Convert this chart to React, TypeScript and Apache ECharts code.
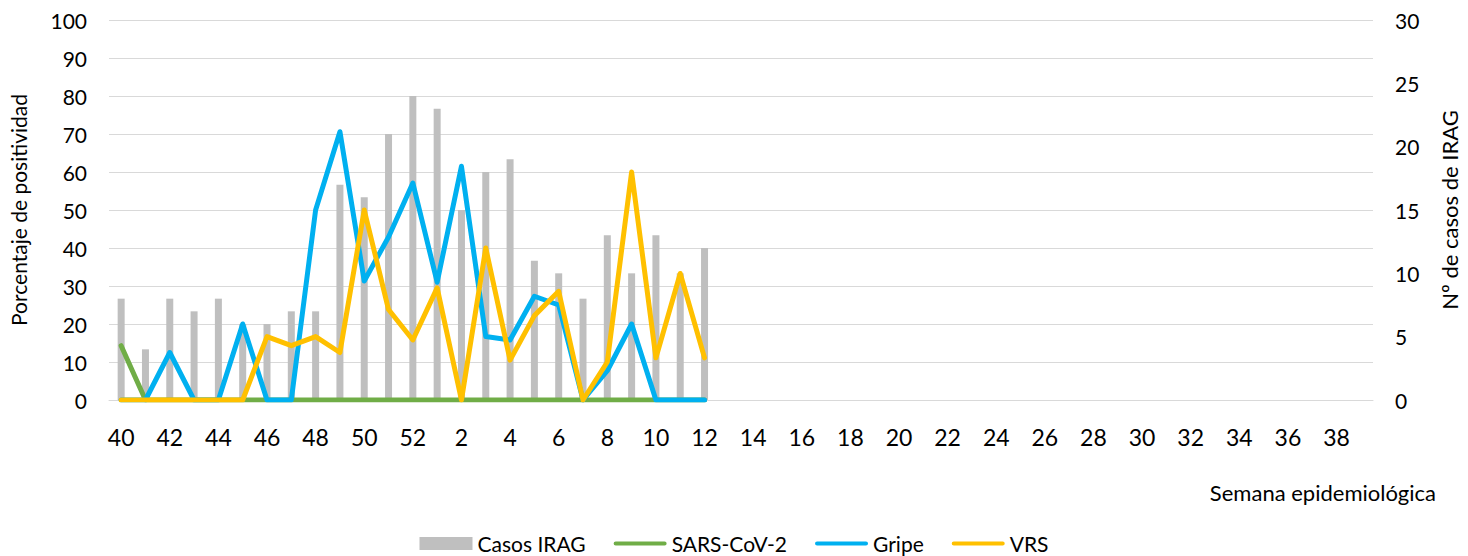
import React, { useEffect, useRef } from "react";
import * as echarts from "echarts";

const weeks: string[] = [
  "40","41","42","43","44","45","46","47","48","49","50","51","52",
  "1","2","3","4","5","6","7","8","9","10","11","12","13","14","15","16","17","18","19","20",
  "21","22","23","24","25","26","27","28","29","30","31","32","33","34","35","36","37","38","39",
];

const casosIRAG: number[] = [8, 4, 8, 7, 8, 6, 6, 7, 7, 17, 16, 21, 24, 23, 15, 18, 19, 11, 10, 8, 13, 10, 13, 10, 12];
const sarsCov2: number[] = [14.3, 0, 0, 0, 0, 0, 0, 0, 0, 0, 0, 0, 0, 0, 0, 0, 0, 0, 0, 0, 0, 0, 0, 0, 0];
const gripe: number[] = [0, 0, 12.5, 0, 0, 20, 0, 0, 50, 70.6, 31.3, 42.9, 57.1, 31, 61.5, 16.7, 15.8, 27.3, 25, 0, 7.7, 20, 0, 0, 0];
const vrs: number[] = [0, 0, 0, 0, 0, 0, 16.7, 14.3, 16.7, 12.5, 50, 23.8, 15.8, 29.5, 0, 40, 10.5, 22.2, 28.6, 0, 10, 60, 11.1, 33.3, 11.1];

const leftTicks = { min: 0, max: 100, interval: 10 };
const rightTicks = { min: 0, max: 30, interval: 5 };

const FONT = "Lato";
const GRID = "#d9d9d9";
const LINE_ICON = "path://M2,0 H50 A2,2 0 0 1 50,4 H2 A2,2 0 0 1 2,0 Z";

export default function App() {
  const ref = useRef<HTMLDivElement>(null);
  useEffect(() => {
    document.body.style.margin = "0";
    const chart = echarts.init(ref.current!, null, { renderer: "svg" });
    chart.setOption({
      animation: false,
      textStyle: { fontFamily: FONT, color: "#000" },
      grid: { left: 98, right: 94, top: 20, bottom: 156 },
      legend: {
        top: 531,
        left: "center",
        padding: 0,
        itemWidth: 53,
        itemHeight: 13,
        itemGap: 28,
        textStyle: { fontFamily: FONT, fontSize: 21, color: "#000", lineHeight: 25 },
        data: [
          { name: "Casos IRAG", icon: "rect", itemStyle: { borderWidth: 0 } },
          { name: "SARS-CoV-2", icon: LINE_ICON, itemStyle: { borderWidth: 0 } },
          { name: "Gripe", icon: LINE_ICON, itemStyle: { borderWidth: 0 } },
          { name: "VRS", icon: LINE_ICON, itemStyle: { borderWidth: 0 } },
        ],
      },
      xAxis: {
        type: "category",
        data: weeks,
        boundaryGap: true,
        axisTick: { show: false },
        axisLine: { lineStyle: { color: GRID, width: 1 } },
        axisLabel: { interval: 1, fontSize: 23, color: "#000", fontFamily: FONT, margin: 25 },
      },
      yAxis: [
        {
          type: "value",
          ...leftTicks,
          name: "Porcentaje de positividad",
          nameLocation: "middle",
          nameGap: 80,
          nameTextStyle: { fontSize: 21, fontFamily: FONT, color: "#000" },
          axisLine: { show: false },
          axisTick: { show: false },
          axisLabel: { fontSize: 21, color: "#000", fontFamily: FONT, margin: 22 },
          splitLine: { lineStyle: { color: GRID, width: 1 } },
        },
        {
          type: "value",
          ...rightTicks,
          name: "Nº de casos de IRAG",
          nameLocation: "middle",
          nameGap: 65,
          nameRotate: 90,
          nameTextStyle: { fontSize: 22, fontFamily: FONT, color: "#000" },
          axisLine: { show: false },
          axisTick: { show: false },
          axisLabel: { fontSize: 21, color: "#000", fontFamily: FONT, margin: 22 },
          splitLine: { show: false },
        },
      ],
      graphic: [
        {
          type: "text",
          right: 32,
          top: 481,
          style: { text: "Semana epidemiológica", fontSize: 22, fontFamily: FONT, fill: "#000" },
        },
      ],
      series: [
        {
          name: "Casos IRAG",
          type: "bar",
          yAxisIndex: 1,
          data: casosIRAG,
          barWidth: 7,
          itemStyle: { color: "#bfbfbf" },
        },
        {
          name: "SARS-CoV-2",
          type: "line",
          data: sarsCov2,
          symbol: "none",
          lineStyle: { color: "#70ad47", width: 5, cap: "round", join: "round" },
          itemStyle: { color: "#70ad47" },
        },
        {
          name: "Gripe",
          type: "line",
          data: gripe,
          symbol: "none",
          lineStyle: { color: "#00b0f0", width: 5, cap: "round", join: "round" },
          itemStyle: { color: "#00b0f0" },
        },
        {
          name: "VRS",
          type: "line",
          data: vrs,
          symbol: "none",
          lineStyle: { color: "#ffc000", width: 5, cap: "round", join: "round" },
          itemStyle: { color: "#ffc000" },
        },
      ],
    });
    return () => chart.dispose();
  }, []);
  return <div ref={ref} style={{ width: 1468, height: 556 }} />;
}
